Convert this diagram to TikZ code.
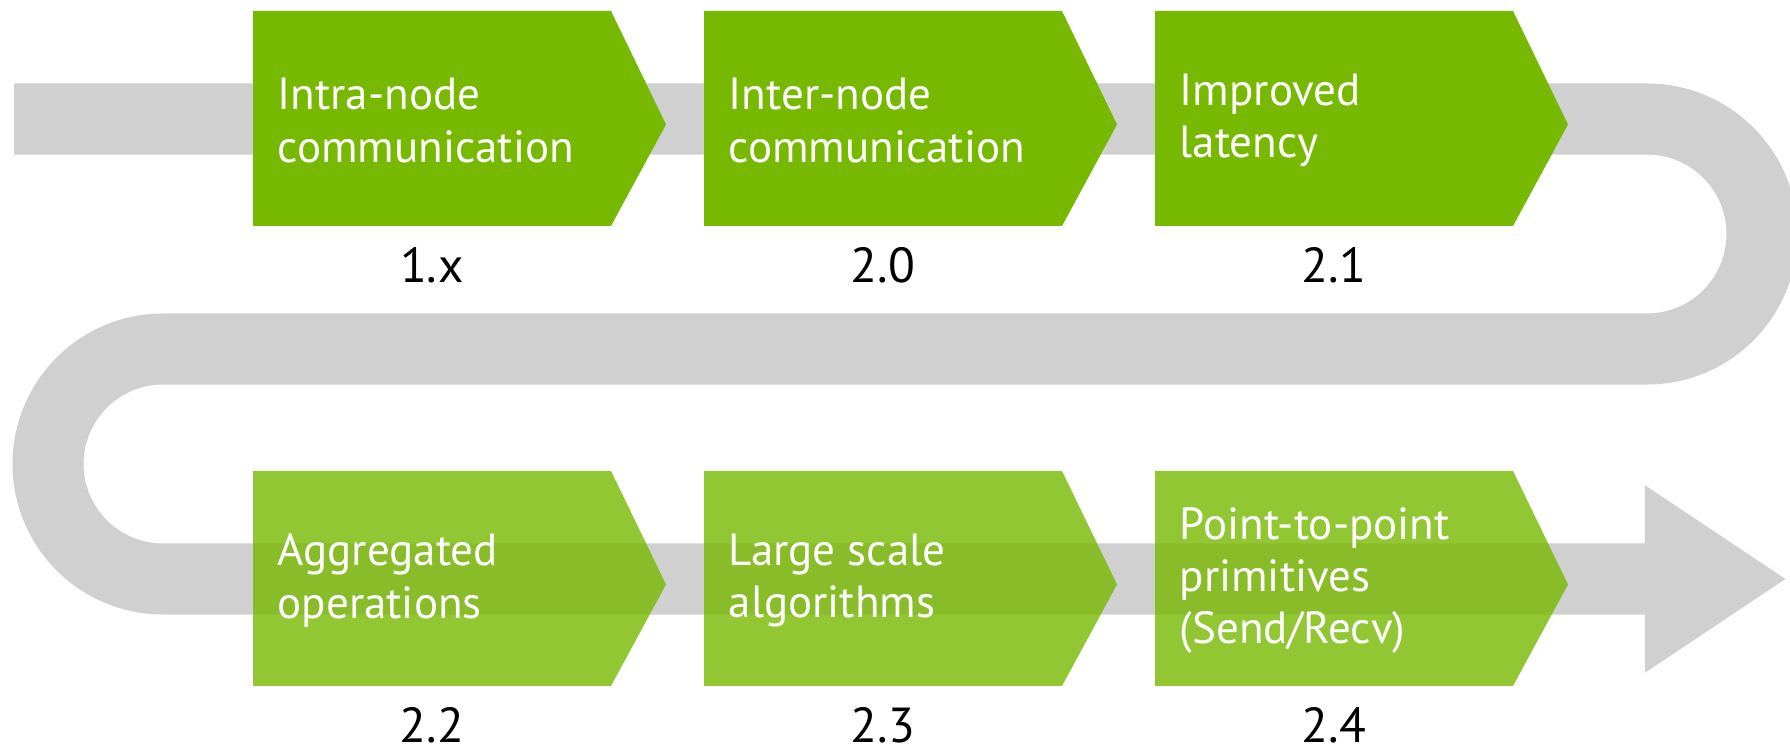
\documentclass[tikz,border=0pt]{standalone}
\usepackage{fontspec}
\setmainfont{PT Sans}
\usetikzlibrary{calc,arrows.meta}
\definecolor{nvgreen}{HTML}{76B900}
\definecolor{trackgrey}{HTML}{D0D0D0}

\begin{document}
\begin{tikzpicture}[x=0.01cm,y=0.01cm,
    stagetext/.style={text=white,align=left,inner sep=0pt,font=\fontsize{12.8}{14.8}\selectfont},
    version/.style={text=black,inner sep=0pt,font=\fontsize{14}{17}\selectfont}]
  \def\w{358}
  \def\h{215}
  \def\tip{55}
  \newcommand{\stage}[6]{%
    \coordinate (#1) at (#2,#3);
    \fill[#4] (#1) -- ++(\w,0) -- ++(\tip,-\h/2-6) -- ++(-\tip,-\h/2+6) -- ++(-\w,0) -- cycle;
    \node[stagetext,anchor=west] (#1t) at ($(#1)+(24,-\h/2-2)$) {#5};
    \node[version] (#1v) at ($(#1)+(\w/2,-254)$) {#6};}
  \useasboundingbox (0,0) rectangle (1790,-749);
  % Grey track: two U-turns, ends in a wide arrow head.
  \draw[trackgrey,line width=0.71cm,-{Triangle[length=1.42cm,width=1.77cm]}]
    (14,-119) -- (1647,-119) arc (90:-90:115) -- (163,-349) arc (90:270:115) -- (1787,-579);
  % Top row: solid boxes.
  \stage{a1}{253}{-11}{nvgreen}{Intra-node\\communication}{1.x}
  \stage{a2}{704}{-11}{nvgreen}{Inter-node\\communication}{2.0}
  \stage{a3}{1155}{-11}{nvgreen}{Improved\\latency}{2.1}
  % Bottom row: see-through boxes.
  \stage{b1}{253}{-471}{nvgreen,fill opacity=.8}{Aggregated\\operations}{2.2}
  \stage{b2}{704}{-471}{nvgreen,fill opacity=.8}{Large scale\\algorithms}{2.3}
  \stage{b3}{1155}{-471}{nvgreen,fill opacity=.8}{Point-to-point\\primitives\\(Send/Recv)}{2.4}
\end{tikzpicture}
\end{document}
